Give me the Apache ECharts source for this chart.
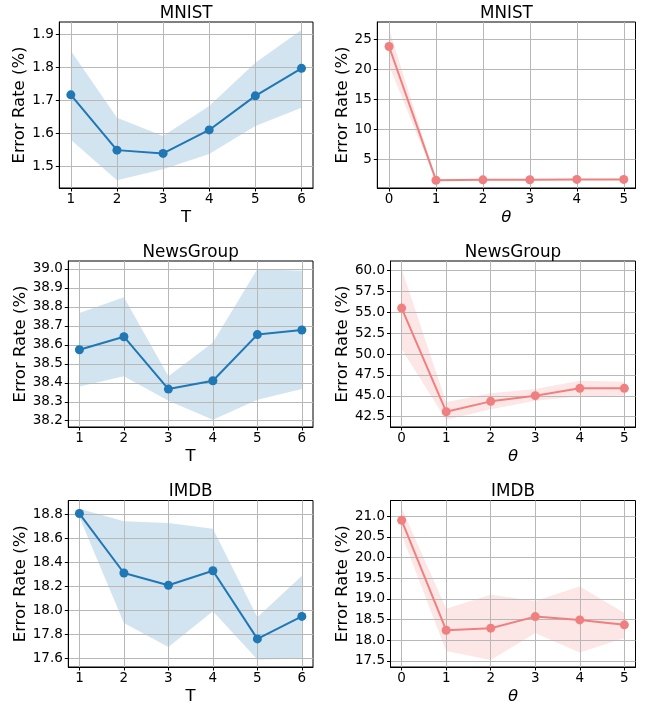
<!DOCTYPE html>
<html>
<head>
<meta charset="utf-8">
<script src="https://cdn.jsdelivr.net/npm/echarts@6/dist/echarts.min.js"></script>
<style>
html,body{margin:0;padding:0;background:#fff;}
#chart{width:649px;height:702px;}
</style>
</head>
<body>
<div id="chart"></div>
<script>
// ---------- data ----------
const titles = ['MNIST', 'MNIST', 'NewsGroup', 'NewsGroup', 'IMDB', 'IMDB'];
const xNames = ['T', 'θ', 'T', 'θ', 'T', 'θ'];
const tValues = [1, 2, 3, 4, 5, 6];
const thetaValues = [0, 1, 2, 3, 4, 5];

// MNIST vs T
const mnistT = [1.717, 1.550, 1.540, 1.611, 1.714, 1.797];
const mnistTUpper = [1.850, 1.648, 1.593, 1.683, 1.814, 1.913];
const mnistTLower = [1.581, 1.459, 1.492, 1.538, 1.623, 1.678];
// MNIST vs theta
const mnistTheta = [23.8, 1.52, 1.58, 1.60, 1.65, 1.65];
const mnistThetaUpper = [26.7, 1.70, 1.72, 1.74, 1.78, 1.78];
const mnistThetaLower = [20.6, 1.40, 1.45, 1.48, 1.52, 1.52];
// NewsGroup vs T
const newsT = [38.574, 38.643, 38.367, 38.411, 38.654, 38.678];
const newsTUpper = [38.768, 38.851, 38.434, 38.613, 39.000, 38.991];
const newsTLower = [38.381, 38.434, 38.305, 38.205, 38.311, 38.367];
// NewsGroup vs theta
const newsTheta = [55.5, 43.1, 44.34, 45.02, 45.9, 45.9];
const newsThetaUpper = [60.18, 44.22, 45.3, 45.82, 46.8, 46.7];
const newsThetaLower = [50.6, 42.14, 43.4, 44.41, 44.94, 45.0];
// IMDB vs T
const imdbT = [18.81, 18.313, 18.21, 18.332, 17.762, 17.95];
const imdbTUpper = [18.85, 18.745, 18.73, 18.683, 17.943, 18.29];
const imdbTLower = [18.78, 17.895, 17.695, 17.993, 17.589, 17.597];
// IMDB vs theta
const imdbTheta = [20.90, 18.24, 18.29, 18.57, 18.49, 18.37];
const imdbThetaUpper = [21.2, 18.76, 19.10, 18.95, 19.30, 18.66];
const imdbThetaLower = [20.55, 17.74, 17.52, 18.17, 17.70, 18.05];

// axis ticks
const yTicks = [
  [1.5, 1.6, 1.7, 1.8, 1.9],
  [5, 10, 15, 20, 25],
  [38.2, 38.3, 38.4, 38.5, 38.6, 38.7, 38.8, 38.9, 39.0],
  [42.5, 45.0, 47.5, 50.0, 52.5, 55.0, 57.5, 60.0],
  [17.6, 17.8, 18.0, 18.2, 18.4, 18.6, 18.8],
  [17.5, 18.0, 18.5, 19.0, 19.5, 20.0, 20.5, 21.0]
];
const yDecimals = [1, 0, 1, 1, 1, 1];
const yMin = [1.4356, 0.22, 38.167, 41.27, 17.527, 17.35];
const yMax = [1.937, 27.88, 39.042, 61.14, 18.919, 21.38];

// ---------- layout / style ----------
const gridBoxes = [
  {left: 59.3, top: 22, right: 313, bottom: 188},
  {left: 377.3, top: 22, right: 635.5, bottom: 188},
  {left: 68.3, top: 261, right: 313, bottom: 427},
  {left: 390.5, top: 261, right: 635.5, bottom: 427},
  {left: 68.3, top: 500.5, right: 313, bottom: 667},
  {left: 390.5, top: 500.5, right: 635.5, bottom: 667}
];
const yNameGaps = [29, 24.3, 38, 37.5, 38, 37.5];
const BLUE = '#1f77b4', BLUE_BAND = 'rgba(31,119,180,0.2)';
const RED = '#f08080', RED_BAND = 'rgba(240,128,128,0.2)';
const FONT = 'DejaVu Sans';
const GRID_COLOR = '#b8b8b8';

const panels = [
  {x: tValues, y: mnistT, lo: mnistTLower, hi: mnistTUpper, c: BLUE, b: BLUE_BAND},
  {x: thetaValues, y: mnistTheta, lo: mnistThetaLower, hi: mnistThetaUpper, c: RED, b: RED_BAND},
  {x: tValues, y: newsT, lo: newsTLower, hi: newsTUpper, c: BLUE, b: BLUE_BAND},
  {x: thetaValues, y: newsTheta, lo: newsThetaLower, hi: newsThetaUpper, c: RED, b: RED_BAND},
  {x: tValues, y: imdbT, lo: imdbTLower, hi: imdbTUpper, c: BLUE, b: BLUE_BAND},
  {x: thetaValues, y: imdbTheta, lo: imdbThetaLower, hi: imdbThetaUpper, c: RED, b: RED_BAND}
];

const grid = [], xAxis = [], yAxis = [], series = [], graphic = [];
panels.forEach((p, i) => {
  const g = gridBoxes[i];
  grid.push({
    left: g.left, top: g.top, width: g.right - g.left, height: g.bottom - g.top,
    containLabel: false, outerBoundsMode: 'none',
    show: true, borderColor: '#000', borderWidth: 1, backgroundColor: 'transparent'
  });
  const xmin = p.x[0] - 0.05 * (p.x[p.x.length - 1] - p.x[0]);
  const xmax = p.x[p.x.length - 1] + 0.05 * (p.x[p.x.length - 1] - p.x[0]);
  xAxis.push({
    type: 'value', gridIndex: i, min: xmin, max: xmax, z: 3,
    name: xNames[i], nameLocation: 'middle', nameGap: 21.5,
    nameTextStyle: {fontFamily: FONT, fontSize: 16.5, color: '#000',
      fontStyle: xNames[i] === 'θ' ? 'italic' : 'normal'},
    axisLine: {show: true, onZero: false, lineStyle: {color: '#000', width: 1}},
    axisTick: {show: true, length: 3.5, inside: false, customValues: p.x, lineStyle: {color: '#000', width: 1}},
    axisLabel: {show: true, customValues: p.x, margin: 4.5, fontFamily: FONT, fontSize: 13.5, color: '#000',
      formatter: v => String(Math.round(v))},
    splitLine: {show: true, lineStyle: {color: GRID_COLOR, width: 1}}
  });
  yAxis.push({
    type: 'value', gridIndex: i, min: yMin[i], max: yMax[i], z: 3,
    name: 'Error Rate (%)', nameLocation: 'middle', nameGap: yNameGaps[i],
    nameTextStyle: {fontFamily: FONT, fontSize: 16.5, color: '#000'},
    axisLine: {show: true, onZero: false, lineStyle: {color: '#000', width: 1}},
    axisTick: {show: true, length: 3.5, inside: false, customValues: yTicks[i], lineStyle: {color: '#000', width: 1}},
    axisLabel: {show: true, customValues: yTicks[i], margin: 5.5, fontFamily: FONT, fontSize: 13.5, color: '#000',
      formatter: v => v.toFixed(yDecimals[i])},
    splitLine: {show: true, lineStyle: {color: GRID_COLOR, width: 1}}
  });
  const xs = p.x, lo = p.lo, hi = p.hi;
  series.push({
    type: 'custom', xAxisIndex: i, yAxisIndex: i, z: 2, silent: true,
    data: xs.map((x, k) => [x, lo[k], hi[k]]),
    encode: {x: 0, y: [1, 2]},
    renderItem: function (params, api) {
      if (params.dataIndex !== 0) return;
      const pts = [];
      for (let k = 0; k < xs.length; k++) pts.push(api.coord([xs[k], hi[k]]));
      for (let k = xs.length - 1; k >= 0; k--) pts.push(api.coord([xs[k], lo[k]]));
      return {type: 'polygon', shape: {points: pts}, style: {fill: p.b, stroke: null}};
    }
  });
  series.push({
    type: 'line', xAxisIndex: i, yAxisIndex: i, z: 5,
    data: xs.map((x, k) => [x, p.y[k]]),
    symbol: 'circle', symbolSize: 9, showSymbol: true,
    lineStyle: {color: p.c, width: 2},
    itemStyle: {color: p.c, borderWidth: 0},
    emphasis: {disabled: true}, animation: false
  });
  graphic.push({
    type: 'text', x: (g.left + g.right) / 2, y: g.top - 8.8,
    style: {text: titles[i], fontFamily: FONT, fontSize: 16.8, fill: '#000',
      align: 'center', verticalAlign: 'middle'}
  });
});

const chart = echarts.init(document.getElementById('chart'), null, {renderer: 'canvas'});
chart.setOption({
  animation: false,
  backgroundColor: '#fff',
  grid, xAxis, yAxis, series, graphic
});
</script>
</body>
</html>
